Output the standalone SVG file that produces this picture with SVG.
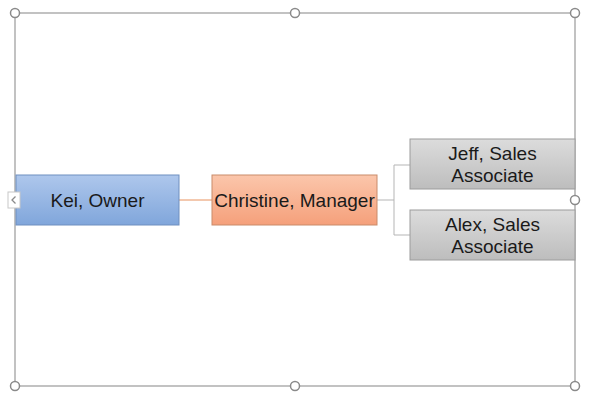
<svg xmlns="http://www.w3.org/2000/svg" width="590" height="400" viewBox="0 0 590 400">
<defs>
<linearGradient id="gBlue" x1="0" y1="0" x2="0" y2="1"><stop offset="0" stop-color="#aec7ec"/><stop offset="1" stop-color="#80a6db"/></linearGradient>
<linearGradient id="gOrange" x1="0" y1="0" x2="0" y2="1"><stop offset="0" stop-color="#fbc6ab"/><stop offset="1" stop-color="#f5a07b"/></linearGradient>
<linearGradient id="gGrey" x1="0" y1="0" x2="0" y2="1"><stop offset="0" stop-color="#dcdcdc"/><stop offset="1" stop-color="#bdbdbd"/></linearGradient>
<style>
.frame{fill:none;stroke:#9a9a9a;stroke-width:1.2}
.handle{fill:#fff;stroke:#8a8a8a;stroke-width:1.5}
.lbl{font-family:"Liberation Sans",Arial,sans-serif;font-size:19px;fill:#1a1a1a;text-anchor:middle;dominant-baseline:central}
.conn{fill:none;stroke-width:1}
</style>
</defs>
<rect width="590" height="400" fill="#fff"/>
<g id="frame">
<rect class="frame" x="15" y="13" width="560" height="373"/>
<circle class="handle" cx="15" cy="13" r="4.5"/>
<circle class="handle" cx="295" cy="13" r="4.5"/>
<circle class="handle" cx="575" cy="13" r="4.5"/>
<circle class="handle" cx="575" cy="200" r="4.5"/>
<circle class="handle" cx="15" cy="386" r="4.5"/>
<circle class="handle" cx="295" cy="386" r="4.5"/>
<circle class="handle" cx="575" cy="386" r="4.5"/>
</g>
<g id="connectors">
<line class="conn" x1="179" y1="200" x2="212" y2="200" stroke="#e8925f"/>
<path class="conn" d="M377 200H394M394 165V235M394 165H410M394 235H410" stroke="#b5b5b5"/>
</g>
<g id="kei">
<rect x="16" y="175" width="163" height="50" fill="url(#gBlue)" stroke="#6f8fbf"/>
<text class="lbl" x="97.5" y="200">Kei, Owner</text>
</g>
<g id="christine">
<rect x="212" y="175" width="165" height="50" fill="url(#gOrange)" stroke="#c98b6b"/>
<text class="lbl" x="294.5" y="200">Christine, Manager</text>
</g>
<g id="jeff">
<rect x="410" y="139" width="165" height="50" fill="url(#gGrey)" stroke="#9c9c9c"/>
<text class="lbl" x="492.5" y="153">Jeff, Sales</text>
<text class="lbl" x="492.5" y="175">Associate</text>
</g>
<g id="alex">
<rect x="410" y="210" width="165" height="50" fill="url(#gGrey)" stroke="#9c9c9c"/>
<text class="lbl" x="492.5" y="224">Alex, Sales</text>
<text class="lbl" x="492.5" y="246">Associate</text>
</g>
<g id="tab">
<rect x="8" y="192" width="12" height="16" fill="#fff" stroke="#c8c8c8"/>
<path d="M15.5 196.5L12 200L15.5 203.5" fill="none" stroke="#8a8a8a" stroke-width="1.3"/>
</g>
</svg>
